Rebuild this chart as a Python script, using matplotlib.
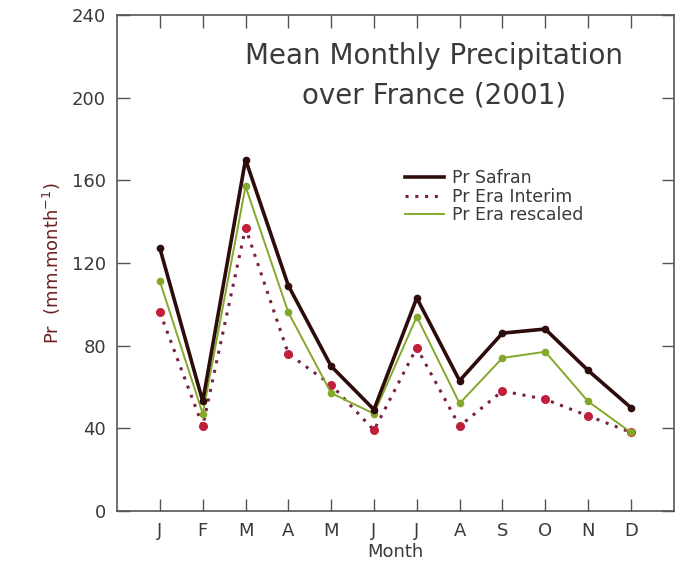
import numpy as np
import matplotlib
matplotlib.use("Agg")
import matplotlib.pyplot as plt
from matplotlib.lines import Line2D

# ── Data ──────────────────────────────────────────────────────────────────
months = ["J", "F", "M", "A", "M", "J", "J", "A", "S", "O", "N", "D"]
pr_safran = [127, 53, 170, 109, 70, 49, 103, 63, 86, 88, 68, 50]
pr_era_interim = [96, 41, 137, 76, 61, 39, 79, 41, 58, 54, 46, 38]
pr_era_rescaled = [111, 47, 157, 96, 57, 47, 94, 52, 74, 77, 53, 38]
yticks = [0, 40, 80, 120, 160, 200, 240]

SAFRAN_C = "#2e0c0c"
INTERIM_LINE = "#7a2040"
INTERIM_DOT = "#c0203a"
RESCALED_C = "#84a82a"
AXIS_C = "#555555"
TEXT_C = "#3a3a3a"

fig = plt.figure(figsize=(6.77, 5.74), dpi=100)
ax = fig.add_axes([0.173, 0.11, 0.822, 0.864])

x = np.arange(1, len(months) + 1)

ax.plot(x, pr_safran, color=SAFRAN_C, lw=2.6, marker="o", ms=4.5, zorder=3)
ax.plot(x, pr_era_interim, color=INTERIM_LINE, lw=2.2, ls=(0, (1, 2.2)),
        zorder=2)
ax.plot(x, pr_era_interim, ls="none", marker="o", ms=5.5,
        color=INTERIM_DOT, zorder=2)
ax.plot(x, pr_era_rescaled, color=RESCALED_C, lw=1.4, marker="o", ms=4.5,
        zorder=2.5)

ax.set_xlim(0, 13)
ax.set_ylim(0, 240)
ax.set_xticks(x)
ax.set_xticklabels(months)
ax.set_yticks(yticks)

ax.tick_params(direction="in", length=9, width=1, colors=AXIS_C,
               labelcolor=TEXT_C, labelsize=13, top=True, right=True,
               pad=8)
for s in ax.spines.values():
    s.set_color(AXIS_C)
    s.set_linewidth(1.2)

ax.set_xlabel("Month", fontsize=13, color=TEXT_C, labelpad=2)
ax.set_ylabel("Pr  (mm.month$^{-1}$)", fontsize=13, color="#6a2020",
              labelpad=6)

ax.text(0.57, 0.945, "Mean Monthly Precipitation\nover France (2001)",
        transform=ax.transAxes, ha="center", va="top", fontsize=20,
        color=TEXT_C, linespacing=1.5)

# legend: plain line samples, no markers
handles = [
    Line2D([], [], color=SAFRAN_C, lw=2.6),
    Line2D([], [], color=INTERIM_LINE, lw=2.2, ls=(0, (1, 2.2))),
    Line2D([], [], color=RESCALED_C, lw=1.4),
]
labels = ["Pr Safran", "Pr Era Interim", "Pr Era rescaled"]
ax.legend(handles, labels, loc="upper left", bbox_to_anchor=(0.49, 0.72),
          frameon=False, fontsize=12.5, handlelength=2.2, handletextpad=0.5,
          labelspacing=0.02, labelcolor=TEXT_C)

fig.savefig("out.png", dpi=100)
